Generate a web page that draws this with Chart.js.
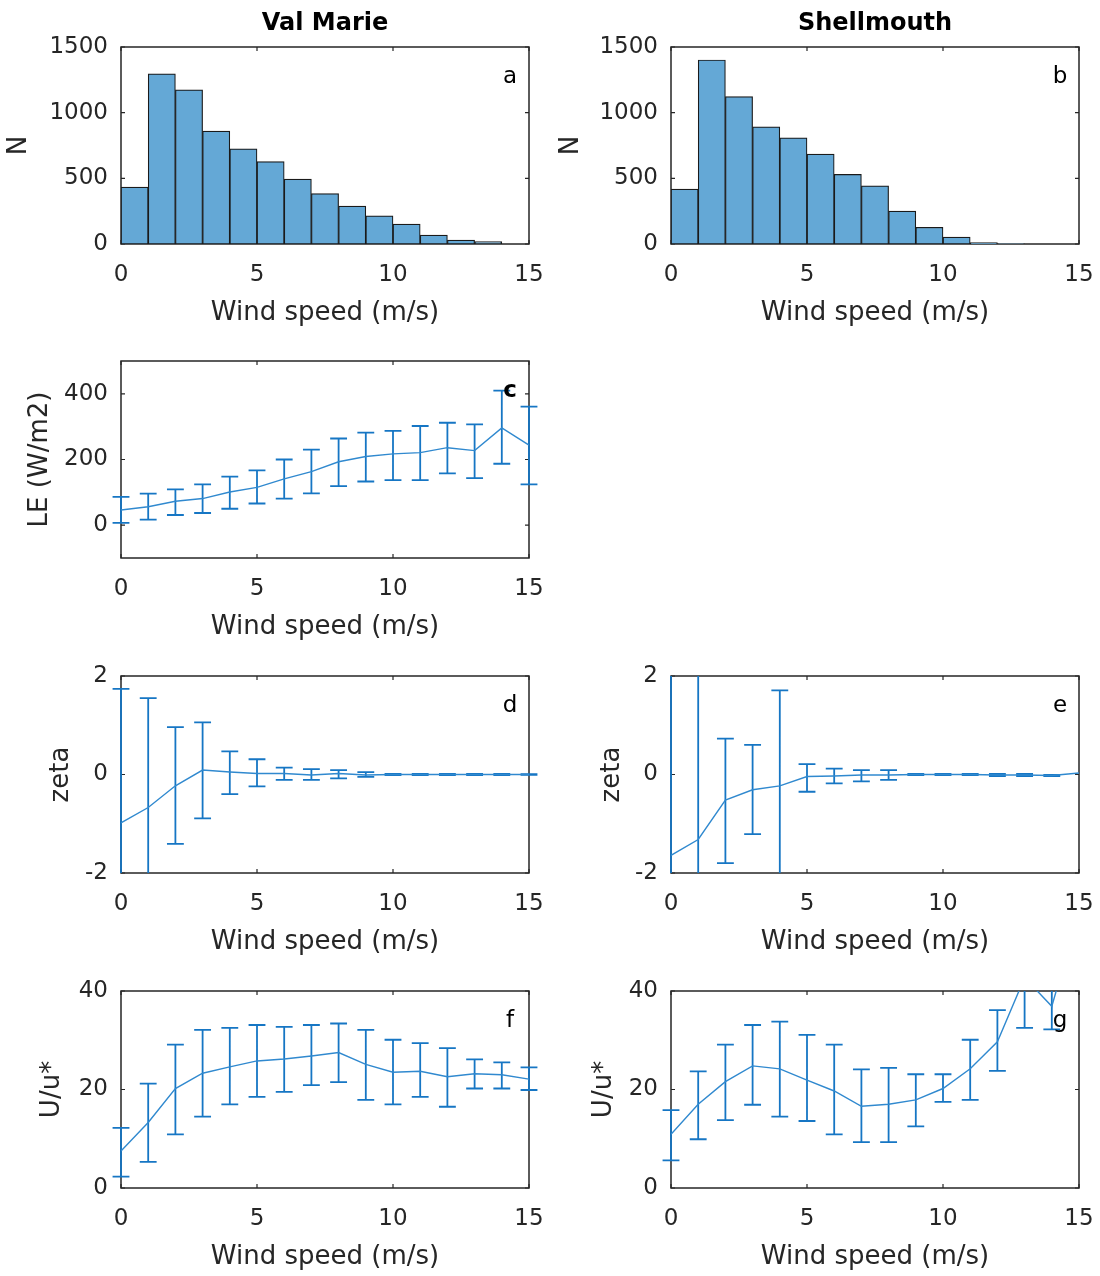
<!DOCTYPE html>
<html>
<head>
<meta charset="utf-8">
<script src="https://cdn.jsdelivr.net/npm/chart.js@4.4.0/dist/chart.umd.min.js"></script>
<style>
    html, body { margin: 0; padding: 0; background: #fff; }
    #figura { position: relative; width: 1100px; height: 1276px; overflow: hidden; }
    .painel { position: absolute; width: 550px; height: 334px; }
</style>
</head>
<body>
<div id="figura"></div>
<script>
// Dados
const centrosClasse = [0.5, 1.5, 2.5, 3.5, 4.5, 5.5, 6.5, 7.5, 8.5, 9.5, 10.5, 11.5, 12.5, 13.5, 14.5];
const contagemValMarie = [433, 1295, 1173, 859, 725, 628, 494, 383, 289, 215, 152, 68, 30, 18, 0];
const contagemShellmouth = [418, 1401, 1122, 892, 808, 684, 530, 443, 251, 127, 53, 10, 2, 0, 0];

const velVento = [0, 1, 2, 3, 4, 5, 6, 7, 8, 9, 10, 11, 12, 13, 14, 15];

const leMedia = [46, 56, 73, 81, 101, 115, 141, 163, 193, 209, 217, 221, 236, 227, 296, 244];
const leSup = [86, 96, 109, 124, 148, 167, 200, 230, 264, 282, 287, 302, 312, 307, 410, 361];
const leInf = [7, 17, 31, 37, 50, 66, 81, 97, 119, 133, 137, 137, 158, 143, 187, 124];

const zetaVMMedia = [-0.98, -0.67, -0.23, 0.09, 0.05, 0.02, 0.02, -0.01, 0.02, -0.01, 0, 0, 0, 0, 0, 0];
const zetaVMSup = [1.74, 1.55, 0.96, 1.06, 0.47, 0.31, 0.14, 0.11, 0.09, 0.05, 0.01, 0.01, 0.01, 0.01, 0.01, 0.005];
const zetaVMInf = [-3.70, -2.89, -1.41, -0.89, -0.40, -0.24, -0.11, -0.11, -0.08, -0.05, -0.01, -0.01, -0.01, -0.01, -0.01, -0.005];

const zetaSHMedia = [-1.64, -1.32, -0.52, -0.31, -0.23, -0.04, -0.03, -0.01, -0.01, 0, 0, 0, -0.01, -0.01, -0.02, 0.03];
const zetaSHSup = [2.4, 3.2, 0.73, 0.60, 1.71, 0.21, 0.12, 0.09, 0.09, 0.01, 0.01, 0.01, 0.01, 0.01, -0.01, null];
const zetaSHInf = [-5.6, -5.8, -1.80, -1.21, -2.17, -0.35, -0.18, -0.14, -0.11, -0.01, -0.01, -0.01, -0.03, -0.03, -0.03, null];

const uVMMedia = [7.5, 13.3, 20.2, 23.3, 24.6, 25.8, 26.2, 26.8, 27.5, 25.1, 23.5, 23.7, 22.6, 23.2, 23.0, 22.1];
const uVMSup = [12.2, 21.2, 29.1, 32.1, 32.5, 33.1, 32.7, 33.1, 33.4, 32.1, 30.1, 29.4, 28.4, 26.1, 25.5, 24.5];
const uVMInf = [2.3, 5.3, 10.9, 14.5, 17.0, 18.5, 19.5, 20.9, 21.5, 17.9, 17.0, 18.5, 16.5, 20.2, 20.2, 19.9];

const uSHMedia = [10.9, 17.0, 21.6, 24.8, 24.2, 21.9, 19.7, 16.6, 17.0, 17.9, 20.2, 24.2, 29.7, 42.7, 36.9, 56];
const uSHSup = [15.8, 23.7, 29.1, 33.1, 33.8, 31.1, 29.1, 24.1, 24.4, 23.1, 23.1, 30.1, 36.1, 53, 41.6, 66];
const uSHInf = [5.6, 9.9, 13.8, 16.9, 14.5, 13.6, 10.9, 9.3, 9.3, 12.5, 17.5, 17.9, 23.8, 32.5, 32.2, 46];

// Marcas dos eixos
const xTicks = [0, 5, 10, 15];
const nTicks = [0, 500, 1000, 1500];
const leTicks = [0, 200, 400];
const zetaTicks = [-2, 0, 2];
const uTicks = [0, 20, 40];

// Layout (px)
const TOPO_LINHA = [47, 361, 676, 991];
const PLOT_ESQ = 121;        // borda esquerda da área do gráfico dentro do painel
const PLOT_DIR_PAD = 21;
const PAD_TOPO = 47;
const ALTURA_X = 85;
const FONTE = '"DejaVu Sans", "Liberation Sans", sans-serif';
const COR_TEXTO = '#262626';
const AZUL = '#1676c4';
const CAP = 0.31;            // meia largura do traço da barra de erro

// Moldura estilo MATLAB: caixa + marcas para dentro + textos
const moldura = {
    id: 'moldura',
    beforeDatasetsDraw(chart) {
        const { ctx, chartArea: a, scales } = chart;
        ctx.save();
        ctx.strokeStyle = COR_TEXTO;
        ctx.lineWidth = 1.5;
        ctx.strokeRect(a.left, a.top, a.right - a.left, a.bottom - a.top);
        ctx.lineWidth = 1.2;
        ctx.beginPath();
        scales.x.ticks.forEach(t => {
            const px = scales.x.getPixelForValue(t.value);
            ctx.moveTo(px, a.bottom); ctx.lineTo(px, a.bottom - 4);
            ctx.moveTo(px, a.top); ctx.lineTo(px, a.top + 4);
        });
        scales.y.ticks.forEach(t => {
            const py = scales.y.getPixelForValue(t.value);
            ctx.moveTo(a.left, py); ctx.lineTo(a.left + 4, py);
            ctx.moveTo(a.right, py); ctx.lineTo(a.right - 4, py);
        });
        ctx.stroke();
        ctx.restore();
    },
    afterDraw(chart, args, opts) {
        const { ctx, chartArea: a } = chart;
        ctx.save();
        ctx.fillStyle = '#000';
        ctx.textBaseline = 'middle';
        ctx.textAlign = 'center';
        if (opts.titulo) {
            ctx.font = 'bold 24px ' + FONTE;
            ctx.fillText(opts.titulo, (a.left + a.right) / 2, a.top - 23);
        }
        ctx.font = (opts.negrito ? 'bold ' : '') + '23px ' + FONTE;
        ctx.fillText(opts.letra, a.right - 19, a.top + 30);
        ctx.restore();
    }
};

// Pontos para as barras de erro (segmentos separados por lacunas)
function pontosErro(xs, inf, sup) {
    const pts = [];
    xs.forEach((x, i) => {
        if (inf[i] === null || sup[i] === null) return;
        pts.push({ x: x, y: inf[i] }, { x: x, y: sup[i] }, { x: x, y: null });
        pts.push({ x: x - CAP, y: inf[i] }, { x: x + CAP, y: inf[i] }, { x: x, y: null });
        pts.push({ x: x - CAP, y: sup[i] }, { x: x + CAP, y: sup[i] }, { x: x, y: null });
    });
    return pts;
}

function criarPainel(cfg) {
    const div = document.createElement('div');
    div.className = 'painel';
    div.style.left = (cfg.col * 550) + 'px';
    div.style.top = (TOPO_LINHA[cfg.linha] - PAD_TOPO) + 'px';
    const canvas = document.createElement('canvas');
    div.appendChild(canvas);
    document.getElementById('figura').appendChild(div);

    const padEsq = cfg.yTituloX - 15.6;
    let datasets;
    if (cfg.tipo === 'hist') {
        datasets = [{
            data: centrosClasse.map((x, i) => ({ x: x, y: cfg.contagens[i] })),
            backgroundColor: '#64a8d6',
            borderColor: '#1a1a1a',
            borderWidth: 1.2,
            borderSkipped: false,
            barPercentage: 1,
            categoryPercentage: 1
        }];
    } else {
        datasets = [{
            data: velVento.map((x, i) => ({ x: x, y: cfg.media[i] })),
            borderColor: '#3089cf',
            borderWidth: 1.4,
            pointRadius: 0,
            tension: 0
        }, {
            data: pontosErro(velVento, cfg.inf, cfg.sup),
            borderColor: AZUL,
            borderWidth: 1.8,
            pointRadius: 0,
            tension: 0,
            spanGaps: false,
            clip: { left: 14, right: 14, top: 0, bottom: 0 }
        }];
    }

    const fonteTick = { family: FONTE, size: 23 };
    const fonteTitulo = { family: FONTE, size: 26 };

    return new Chart(canvas, {
        type: cfg.tipo === 'hist' ? 'bar' : 'line',
        data: { datasets: datasets },
        plugins: [moldura],
        options: {
            animation: false,
            responsive: true,
            maintainAspectRatio: false,
            layout: { padding: { left: padEsq, right: PLOT_DIR_PAD, top: PAD_TOPO, bottom: 5 } },
            plugins: {
                legend: { display: false },
                tooltip: { enabled: false },
                moldura: { titulo: cfg.titulo, letra: cfg.letra, negrito: cfg.negrito }
            },
            scales: {
                x: {
                    type: 'linear',
                    offset: false,
                    min: 0,
                    max: 15,
                    afterBuildTicks: s => { s.ticks = xTicks.map(v => ({ value: v })); },
                    afterFit: s => {
                        s.height = ALTURA_X;
                        s.paddingLeft = 0;
                        s.paddingRight = 0;
                    },
                    grid: { display: false, drawTicks: false, tickLength: 0 },
                    border: { display: false },
                    ticks: {
                        color: COR_TEXTO, font: fonteTick, padding: 17,
                        maxRotation: 0, autoSkip: false,
                        callback: v => String(v)
                    },
                    title: {
                        display: true, text: 'Wind speed (m/s)', color: COR_TEXTO,
                        font: fonteTitulo, padding: { top: 0, bottom: 0 }
                    }
                },
                y: {
                    type: 'linear',
                    min: cfg.yMin,
                    max: cfg.yMax,
                    afterBuildTicks: s => { s.ticks = cfg.yTicks.map(v => ({ value: v })); },
                    afterFit: s => {
                        s.width = PLOT_ESQ - padEsq;
                        s.paddingTop = 0;
                        s.paddingBottom = 0;
                    },
                    grid: { display: false, drawTicks: false, tickLength: 0 },
                    border: { display: false },
                    ticks: {
                        color: COR_TEXTO, font: fonteTick, padding: 13,
                        autoSkip: false, callback: v => String(v)
                    },
                    title: {
                        display: true, text: cfg.yTitulo, color: COR_TEXTO,
                        font: fonteTitulo, padding: { top: 0, bottom: 0 }
                    }
                }
            }
        }
    });
}

const paineis = [
    { letra: 'a', col: 0, linha: 0, tipo: 'hist', contagens: contagemValMarie, titulo: 'Val Marie',
      yTitulo: 'N', yMin: 0, yMax: 1500, yTicks: nTicks, yTituloX: 19 },
    { letra: 'b', col: 1, linha: 0, tipo: 'hist', contagens: contagemShellmouth, titulo: 'Shellmouth',
      yTitulo: 'N', yMin: 0, yMax: 1500, yTicks: nTicks, yTituloX: 21 },
    { letra: 'c', col: 0, linha: 1, tipo: 'erro', media: leMedia, inf: leInf, sup: leSup, negrito: true,
      yTitulo: 'LE (W/m2)', yMin: -100, yMax: 500, yTicks: leTicks, yTituloX: 40 },
    { letra: 'd', col: 0, linha: 2, tipo: 'erro', media: zetaVMMedia, inf: zetaVMInf, sup: zetaVMSup,
      yTitulo: 'zeta', yMin: -2, yMax: 2, yTicks: zetaTicks, yTituloX: 61 },
    { letra: 'e', col: 1, linha: 2, tipo: 'erro', media: zetaSHMedia, inf: zetaSHInf, sup: zetaSHSup,
      yTitulo: 'zeta', yMin: -2, yMax: 2, yTicks: zetaTicks, yTituloX: 62 },
    { letra: 'f', col: 0, linha: 3, tipo: 'erro', media: uVMMedia, inf: uVMInf, sup: uVMSup,
      yTitulo: 'U/u*', yMin: 0, yMax: 40, yTicks: uTicks, yTituloX: 52 },
    { letra: 'g', col: 1, linha: 3, tipo: 'erro', media: uSHMedia, inf: uSHInf, sup: uSHSup,
      yTitulo: 'U/u*', yMin: 0, yMax: 40, yTicks: uTicks, yTituloX: 54 }
];

paineis.forEach(criarPainel);
</script>
</body>
</html>
